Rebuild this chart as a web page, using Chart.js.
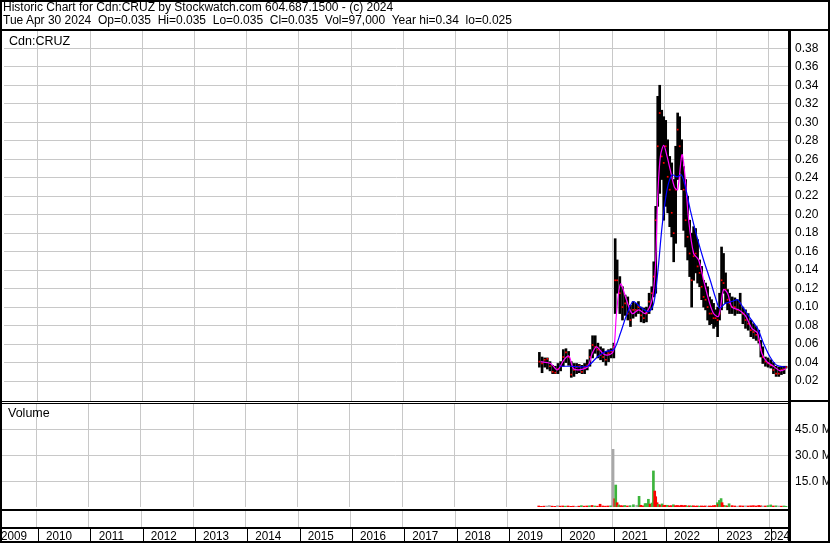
<!DOCTYPE html>
<html>
<head>
<meta charset="utf-8">
<script src="https://cdn.jsdelivr.net/npm/chart.js@4.4.1/dist/chart.umd.min.js"></script>
<style>
  html, body { margin: 0; padding: 0; background: #fff; }
  #wrap { position: relative; width: 830px; height: 543px; overflow: hidden; background: #fff;
          font-family: "Liberation Sans", Arial, sans-serif; color: #000; }
  #wrap canvas { position: absolute; left: 0; top: 0; }
  .txt { position: absolute; font-size: 12px; line-height: 13px; white-space: pre; }
</style>
</head>
<body>
<div id="wrap">
  <canvas id="priceChart" width="830" height="543"></canvas>
  <canvas id="volumeChart" width="830" height="543"></canvas>
  <div class="txt" style="left:3px; top:1px">Historic Chart for Cdn:CRUZ by Stockwatch.com 604.687.1500 - (c) 2024</div>
  <div class="txt" style="left:3px; top:14px">Tue Apr 30 2024  Op=0.035  Hi=0.035  Lo=0.035  Cl=0.035  Vol=97,000  Year hi=0.34  lo=0.025</div>
  <div class="txt" style="left:9px; top:35px; font-size:12.5px">Cdn:CRUZ</div>
  <div class="txt" style="left:8px; top:407px; font-size:12.5px">Volume</div>
</div>

<script>
// tick labels / axis values
const priceTicks = [0.02, 0.04, 0.06, 0.08, 0.10, 0.12, 0.14, 0.16, 0.18, 0.20,
                    0.22, 0.24, 0.26, 0.28, 0.30, 0.32, 0.34, 0.36, 0.38];
const volTicks = [15, 30, 45];
const gridYears = [2010, 2011, 2012, 2013, 2014, 2015, 2016, 2017, 2018, 2019, 2020, 2021, 2022, 2023, 2024];
const yearLabels = ['2009', '2010', '2011', '2012', '2013', '2014', '2015', '2016',
                    '2017', '2018', '2019', '2020', '2021', '2022', '2023', '2024'];

// price bars (high / low / close), dates as decimal years
const priceDates = [
  2019.607, 2019.658, 2019.709, 2019.760, 2019.810, 2019.861, 2019.912, 2019.963,
  2020.014, 2020.065, 2020.116, 2020.167, 2020.218, 2020.269, 2020.320, 2020.371, 2020.422, 2020.473,
  2020.524, 2020.575, 2020.626, 2020.677, 2020.728, 2020.779, 2020.830, 2020.881, 2020.932, 2020.982,
  2021.033, 2021.059, 2021.097, 2021.148, 2021.199, 2021.250, 2021.301, 2021.352, 2021.403, 2021.454,
  2021.505, 2021.556, 2021.607, 2021.658, 2021.709, 2021.760, 2021.798, 2021.836, 2021.874, 2021.912,
  2021.951, 2021.989,
  2022.027, 2022.065, 2022.104, 2022.142, 2022.180, 2022.218, 2022.256, 2022.295, 2022.333, 2022.371,
  2022.409, 2022.447, 2022.486, 2022.524, 2022.562, 2022.600, 2022.638, 2022.677, 2022.715, 2022.753,
  2022.791, 2022.830, 2022.868, 2022.906, 2022.944, 2022.982,
  2023.021, 2023.059, 2023.097, 2023.135, 2023.174, 2023.212, 2023.250, 2023.301, 2023.352, 2023.403,
  2023.454, 2023.505, 2023.556, 2023.607, 2023.658, 2023.709, 2023.760, 2023.810, 2023.849, 2023.887,
  2023.938, 2023.989,
  2024.040, 2024.091, 2024.142, 2024.193, 2024.244, 2024.295, 2024.333
];
const priceHigh = [
  0.051, 0.046, 0.045, 0.045, 0.041, 0.037, 0.036, 0.039,
  0.041, 0.054, 0.055, 0.052, 0.041, 0.039, 0.039, 0.038, 0.037, 0.039,
  0.043, 0.054, 0.069, 0.069, 0.061, 0.057, 0.055, 0.052, 0.054, 0.055,
  0.061, 0.174, 0.151, 0.133, 0.122, 0.113, 0.111, 0.102, 0.106, 0.104,
  0.106, 0.100, 0.099, 0.100, 0.115, 0.122, 0.149, 0.209, 0.328, 0.340,
  0.313, 0.306,
  0.302, 0.281, 0.263, 0.256, 0.238, 0.274, 0.310, 0.306, 0.281, 0.252,
  0.238, 0.220, 0.194, 0.180, 0.187, 0.185, 0.173, 0.151, 0.144, 0.129,
  0.126, 0.122, 0.111, 0.108, 0.104, 0.097,
  0.100, 0.115, 0.165, 0.158, 0.137, 0.119, 0.115, 0.111, 0.110, 0.108,
  0.115, 0.100, 0.097, 0.093, 0.086, 0.082, 0.079, 0.075, 0.064, 0.057,
  0.046, 0.045,
  0.043, 0.040, 0.036, 0.035, 0.036, 0.036, 0.036
];
const priceLow = [
  0.035, 0.029, 0.035, 0.033, 0.031, 0.028, 0.028, 0.028,
  0.031, 0.036, 0.040, 0.037, 0.024, 0.025, 0.028, 0.029, 0.028, 0.028,
  0.032, 0.036, 0.045, 0.050, 0.045, 0.043, 0.041, 0.037, 0.041, 0.045,
  0.045, 0.093, 0.115, 0.093, 0.086, 0.091, 0.086, 0.079, 0.088, 0.090,
  0.093, 0.084, 0.083, 0.084, 0.093, 0.097, 0.111, 0.115, 0.209, 0.223,
  0.238, 0.194,
  0.209, 0.202, 0.187, 0.176, 0.149, 0.169, 0.238, 0.245, 0.227, 0.183,
  0.165, 0.151, 0.133, 0.100, 0.129, 0.137, 0.126, 0.122, 0.108, 0.100,
  0.097, 0.086, 0.081, 0.082, 0.077, 0.079,
  0.068, 0.086, 0.097, 0.115, 0.104, 0.097, 0.093, 0.093, 0.091, 0.093,
  0.093, 0.082, 0.077, 0.075, 0.068, 0.066, 0.064, 0.061, 0.046, 0.039,
  0.036, 0.035,
  0.034, 0.028, 0.025, 0.025, 0.027, 0.028, 0.034
];
const priceClose = [
  0.041, 0.039, 0.043, 0.044, 0.036, 0.030, 0.029, 0.033,
  0.036, 0.046, 0.051, 0.046, 0.027, 0.032, 0.035, 0.036, 0.030, 0.035,
  0.037, 0.046, 0.059, 0.057, 0.054, 0.048, 0.046, 0.043, 0.050, 0.052,
  0.057, 0.129, 0.129, 0.115, 0.100, 0.104, 0.093, 0.086, 0.097, 0.097,
  0.100, 0.091, 0.088, 0.093, 0.106, 0.115, 0.133, 0.194, 0.274, 0.310,
  0.263, 0.256,
  0.274, 0.241, 0.227, 0.202, 0.180, 0.227, 0.292, 0.274, 0.263, 0.227,
  0.194, 0.176, 0.158, 0.129, 0.155, 0.158, 0.144, 0.137, 0.122, 0.111,
  0.108, 0.100, 0.093, 0.093, 0.088, 0.088,
  0.086, 0.093, 0.129, 0.126, 0.119, 0.108, 0.104, 0.100, 0.100, 0.097,
  0.104, 0.093, 0.086, 0.082, 0.075, 0.073, 0.070, 0.064, 0.054, 0.046,
  0.041, 0.039,
  0.037, 0.032, 0.028, 0.028, 0.032, 0.033, 0.035
];

// moving averages (magenta = short, blue = long)
const fastMaDates = [
  2019.632, 2019.823, 2019.951, 2020.078, 2020.174, 2020.269, 2020.524, 2020.619, 2020.702, 2020.842,
  2020.970, 2021.033, 2021.084, 2021.161, 2021.275, 2021.384, 2021.511, 2021.639, 2021.766, 2021.830,
  2021.874, 2021.925, 2021.989, 2022.053, 2022.116, 2022.193, 2022.256, 2022.339, 2022.403, 2022.467,
  2022.562, 2022.658, 2022.753, 2022.849, 2022.944, 2023.040, 2023.135, 2023.212, 2023.295, 2023.422,
  2023.550, 2023.677, 2023.785, 2023.868, 2023.963, 2024.091, 2024.218, 2024.333
];
const fastMa = [
  0.041, 0.039, 0.032, 0.043, 0.047, 0.033, 0.035, 0.050, 0.057, 0.049,
  0.049, 0.054, 0.093, 0.125, 0.108, 0.093, 0.097, 0.093, 0.108, 0.144,
  0.220, 0.263, 0.275, 0.263, 0.248, 0.230, 0.227, 0.265, 0.238, 0.194,
  0.158, 0.151, 0.129, 0.108, 0.093, 0.090, 0.119, 0.115, 0.100, 0.097,
  0.091, 0.077, 0.072, 0.050, 0.041, 0.036, 0.031, 0.033
];
const slowMaDates = [
  2019.982, 2020.205, 2020.524, 2020.715, 2020.874, 2021.033, 2021.161, 2021.288, 2021.403, 2021.543,
  2021.702, 2021.798, 2021.874, 2021.957, 2022.053, 2022.148, 2022.244, 2022.327, 2022.403, 2022.498,
  2022.626, 2022.753, 2022.880, 2022.976, 2023.059, 2023.167, 2023.295, 2023.403, 2023.505, 2023.645,
  2023.785, 2023.900, 2024.027, 2024.154, 2024.333
];
const slowMa = [
  0.036, 0.036, 0.036, 0.046, 0.052, 0.054, 0.072, 0.093, 0.106, 0.100,
  0.095, 0.104, 0.137, 0.187, 0.227, 0.243, 0.241, 0.243, 0.230, 0.205,
  0.176, 0.151, 0.129, 0.111, 0.099, 0.104, 0.106, 0.108, 0.100, 0.088,
  0.077, 0.061, 0.046, 0.037, 0.035
];

// volume in millions, u = up, d = down, n = unchanged
const volDates = [
  2019.607, 2019.658, 2019.709, 2019.760, 2019.810, 2019.861, 2019.912, 2019.963,
  2020.014, 2020.065, 2020.116, 2020.167, 2020.218, 2020.269, 2020.320, 2020.371, 2020.422, 2020.473,
  2020.524, 2020.575, 2020.626, 2020.677, 2020.728, 2020.779, 2020.830, 2020.881, 2020.932, 2020.982,
  2021.027, 2021.059, 2021.078, 2021.104, 2021.135, 2021.174, 2021.212, 2021.250, 2021.301, 2021.352,
  2021.416, 2021.479, 2021.524, 2021.556, 2021.600, 2021.639, 2021.670, 2021.702, 2021.734, 2021.772,
  2021.798, 2021.823, 2021.842, 2021.868, 2021.893, 2021.925, 2021.963, 2021.995,
  2022.027, 2022.065, 2022.104, 2022.142, 2022.180, 2022.218, 2022.256, 2022.295, 2022.333, 2022.371,
  2022.409, 2022.447, 2022.486, 2022.524, 2022.562, 2022.600, 2022.638, 2022.677, 2022.715, 2022.753,
  2022.791, 2022.830, 2022.868, 2022.906, 2022.944, 2022.982,
  2023.021, 2023.040, 2023.059, 2023.091, 2023.110, 2023.135, 2023.174, 2023.212, 2023.244, 2023.301,
  2023.352, 2023.403, 2023.454, 2023.505, 2023.556, 2023.607, 2023.658, 2023.709, 2023.760, 2023.810,
  2023.849, 2023.887, 2023.938, 2023.989,
  2024.040, 2024.091, 2024.142, 2024.193, 2024.244, 2024.295, 2024.333
];
const volValues = [
  0.6, 0.4, 0.5, 0.6, 0.9, 0.5, 0.4, 0.8,
  0.5, 0.6, 0.5, 0.6, 0.4, 0.5, 0.4, 0.5, 0.8, 0.5,
  0.6, 0.7, 0.9, 0.6, 0.5, 1.6, 0.6, 0.5, 0.6, 0.7,
  33.6, 4.8, 12.8, 2.5, 1.2, 0.8, 0.7, 0.9, 0.6, 0.8,
  1.3, 1.0, 6.2, 1.0, 0.7, 2.0, 2.0, 4.5, 1.7, 2.3,
  21.0, 9.3, 6.0, 2.5, 1.5, 1.2, 1.8, 0.9,
  1.0, 1.0, 0.7, 0.8, 1.3, 0.8, 0.9, 0.7, 1.0, 0.8,
  0.9, 0.6, 0.7, 0.6, 0.7, 0.5, 0.6, 0.5, 0.6, 0.5,
  0.6, 0.5, 0.6, 0.5, 0.8, 0.9,
  2.5, 1.5, 3.8, 4.9, 2.5, 1.0, 0.8, 0.6, 1.9, 0.8,
  0.6, 0.5, 0.7, 0.6, 0.7, 0.6, 0.7, 0.8, 0.6, 0.9,
  0.7, 0.6, 0.6, 0.8,
  1.2, 0.6, 0.7, 0.6, 0.5, 0.6, 0.4
];
const volDir = [
  'd', 'd', 'd', 'n', 'n', 'd', 'd', 'n',
  'd', 'd', 'u', 'd', 'd', 'd', 'n', 'd', 'u', 'd',
  'd', 'u', 'd', 'u', 'd', 'd', 'd', 'd', 'd', 'u',
  'n', 'd', 'u', 'd', 'u', 'd', 'd', 'u', 'd', 'u',
  'u', 'n', 'u', 'd', 'd', 'u', 'u', 'u', 'd', 'u',
  'u', 'd', 'd', 'd', 'u', 'd', 'u', 'd',
  'd', 'u', 'd', 'd', 'u', 'd', 'd', 'd', 'd', 'd',
  'd', 'u', 'd', 'u', 'd', 'd', 'd', 'u', 'd', 'd',
  'd', 'n', 'd', 'd', 'd', 'd',
  'u', 'd', 'u', 'u', 'd', 'd', 'u', 'd', 'u', 'd',
  'd', 'n', 'd', 'd', 'n', 'd', 'd', 'd', 'd', 'd',
  'd', 'n', 'd', 'u',
  'u', 'd', 'u', 'n', 'd', 'u', 'u'
];

const FONT = '"Liberation Sans", Arial, sans-serif';
const gridColor = '#c8c8c8';
const dirColors = { u: '#3cb43c', d: '#ff0000', n: '#a8a8a8' };
const xStart = 2009.350, xEnd = 2024.389;

Chart.defaults.font.family = FONT;
Chart.defaults.color = '#000';

function xAxis() {
  return {
    type: 'linear', min: xStart, max: xEnd, offset: false,
    grid: { color: gridColor, drawTicks: false, offset: false },
    border: { display: false },
    ticks: { display: false },
    afterBuildTicks: s => { s.ticks = gridYears.map(v => ({ value: v })); },
    afterFit: s => { s.height = 0; }
  };
}

// price panel
new Chart(document.getElementById('priceChart'), {
  type: 'bar',
  data: {
    datasets: [
      {
        type: 'line', label: 'long MA',
        data: slowMaDates.map((x, i) => ({ x: x, y: slowMa[i] })),
        borderColor: '#0000ff', borderWidth: 1.2, pointRadius: 0, tension: 0.3, order: 0
      },
      {
        type: 'line', label: 'short MA',
        data: fastMaDates.map((x, i) => ({ x: x, y: fastMa[i] })),
        borderColor: '#ff00ff', borderWidth: 1.2, pointRadius: 0, tension: 0.3, order: 1
      },
      {
        type: 'scatter', label: 'close',
        data: priceDates.map((x, i) => ({ x: x, y: priceClose[i] })),
        pointStyle: 'rect', pointRadius: 1.2, borderWidth: 0,
        backgroundColor: '#ff0000', order: 2
      },
      {
        type: 'bar', label: 'range',
        data: priceDates.map((x, i) => ({ x: x, y: [priceLow[i], priceHigh[i]] })),
        backgroundColor: '#000', barThickness: 2, order: 3
      }
    ]
  },
  options: {
    responsive: false, animation: false, devicePixelRatio: 1,
    layout: { padding: { left: 2, top: 31, right: 0, bottom: 142 } },
    plugins: { legend: { display: false }, tooltip: { enabled: false } },
    scales: {
      x: xAxis(),
      y: {
        position: 'right', min: -0.0016, max: 0.3987,
        grid: { color: gridColor, drawTicks: false },
        border: { display: false },
        ticks: { autoSkip: false, padding: 6, font: { size: 12 }, callback: v => v.toFixed(2) },
        afterBuildTicks: s => { s.ticks = priceTicks.map(v => ({ value: v })); },
        afterFit: s => { s.width = 41; }
      }
    }
  }
});

// frame, year band and labels
const framePlugin = {
  id: 'frame',
  afterDraw(chart) {
    const ctx = chart.ctx;
    const xs = chart.scales.x;
    ctx.save();
    ctx.fillStyle = gridColor;
    gridYears.forEach(y => ctx.fillRect(Math.round(xs.getPixelForValue(y)), 511, 1, 16));
    ctx.fillStyle = '#000';
    gridYears.forEach(y => ctx.fillRect(Math.round(xs.getPixelForValue(y)) + 2, 529, 1, 12));

    ctx.font = '13px ' + FONT;
    yearLabels.forEach(lbl => {
      const w = ctx.measureText(lbl).width * 0.9;
      let left = xs.getPixelForValue(Number(lbl) + 0.44) - w / 2;
      left = Math.max(1, Math.min(left, 790 - w));
      ctx.save();
      ctx.translate(left, 540);
      ctx.scale(0.9, 1);
      ctx.fillText(lbl, 0, 0);
      ctx.restore();
    });

    ctx.fillRect(0, 0, 830, 2);
    ctx.fillRect(0, 0, 2, 543);
    ctx.fillRect(828, 0, 2, 543);
    ctx.fillRect(0, 541, 830, 2);
    ctx.fillRect(0, 29, 830, 2);
    ctx.fillRect(0, 401, 788, 1);
    ctx.fillRect(0, 403, 788, 1);
    ctx.fillRect(790, 400, 40, 2);
    ctx.fillRect(0, 509, 790, 2);
    ctx.fillRect(0, 527, 790, 2);
    ctx.fillRect(788, 29, 3, 514);
    ctx.restore();
  }
};

// volume panel
new Chart(document.getElementById('volumeChart'), {
  type: 'bar',
  data: {
    datasets: [{
      label: 'volume',
      data: volDates.map((x, i) => ({ x: x, y: volValues[i] })),
      backgroundColor: volDir.map(d => dirColors[d]),
      barThickness: 2, grouped: false
    }]
  },
  options: {
    responsive: false, animation: false, devicePixelRatio: 1,
    layout: { padding: { left: 2, top: 404, right: 0, bottom: 36 } },
    plugins: { legend: { display: false }, tooltip: { enabled: false } },
    scales: {
      x: xAxis(),
      y: {
        position: 'right', min: 0, max: 60,
        grid: { color: gridColor, drawTicks: false },
        border: { display: false },
        ticks: { autoSkip: false, padding: 6, font: { size: 12 }, callback: v => v.toFixed(1) + ' M' },
        afterBuildTicks: s => { s.ticks = volTicks.map(v => ({ value: v })); },
        afterFit: s => { s.width = 41; }
      }
    }
  },
  plugins: [framePlugin]
});
</script>
</body>
</html>
